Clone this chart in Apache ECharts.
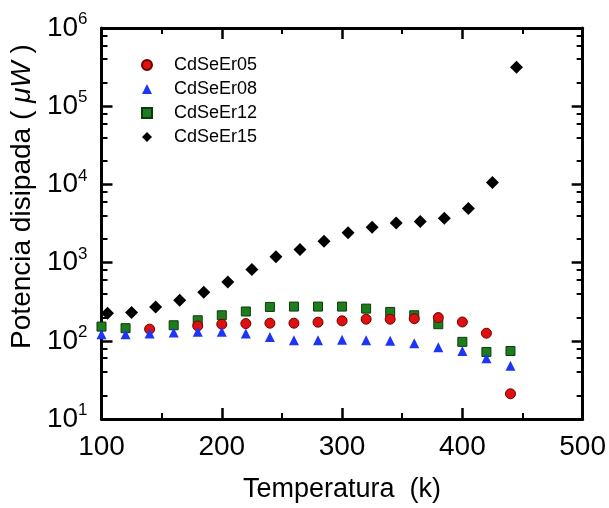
<!DOCTYPE html>
<html>
<head>
<meta charset="utf-8">
<script src="https://cdn.jsdelivr.net/npm/echarts@6/dist/echarts.min.js"></script>
<style>
  html, body { margin: 0; padding: 0; background: #fff; }
  #main { width: 609px; height: 508px; }
</style>
</head>
<body>
<div id="main"></div>
<script>
// datos
var tempA = [100, 120, 140, 160, 180, 200, 220, 240, 260, 280, 300, 320, 340, 360, 380, 400, 420, 440];
var tempB = [105, 125, 145, 165, 185, 205, 225, 245, 265, 285, 305, 325, 345, 365, 385, 405, 425, 445];

var cdseEr05 = [null, null, 141, null, 155, 163, 166, 168, 168, 173, 180, 189, 189, 192, 198, 174, 125, 21];
var cdseEr08 = [121, 121, 124, 128, 131, 131, 124, 112, 102, 102, 103, 102, 100, 93, 83, 74, 60, 48];
var cdseEr12 = [152, 145, null, 158, 183, 212, 237, 271, 274, 274, 274, 258, 234, 212, 163, 97, 72, 74];
var cdseEr15 = [225, 230, 270, 330, 417, 564, 818, 1190, 1470, 1880, 2400, 2840, 3220, 3350, 3700, 4910, 10600, 315000];

var xTicks = [100, 200, 300, 400, 500];
var yDecades = [10, 100, 1000, 10000, 100000, 1000000];
var yMinorMult = [2, 4, 6, 8];

var FONT = '"Liberation Sans", Arial, sans-serif';

function pares(xs, ys) {
    var out = [];
    for (var i = 0; i < xs.length; i++) {
        if (ys[i] != null) out.push([xs[i], ys[i]]);
    }
    return out;
}

// ticks menores del eje log (2,4,6,8 x 10^n) en espacio log10
var minorLog = [];
for (var d = 0; d < yDecades.length - 1; d++) {
    for (var m = 0; m < yMinorMult.length; m++) {
        minorLog.push(Math.log10(yDecades[d] * yMinorMult[m]));
    }
}

var chart = echarts.init(document.getElementById('main'));

var tickMajor = { show: true, inside: true, length: 11, lineStyle: { color: '#000', width: 2.5 } };
var lineAx = { show: true, lineStyle: { color: '#000', width: 3 } };

var option = {
    backgroundColor: '#fff',
    animation: false,
    grid: { left: 99, right: 24, top: 28, bottom: 88 },
    legend: {
        orient: 'vertical',
        left: 136,
        top: 51,
        itemWidth: 10,
        itemHeight: 10,
        itemGap: 6,
        data: ['CdSeEr05', 'CdSeEr08', 'CdSeEr12', 'CdSeEr15'],
        textStyle: { fontSize: 18, color: '#000', fontFamily: FONT, padding: [0, 0, 0, 17] }
    },
    xAxis: [{
        type: 'value',
        position: 'bottom',
        min: xTicks[0],
        max: xTicks[xTicks.length - 1],
        interval: 100,
        name: 'Temperatura  (k)',
        nameLocation: 'middle',
        nameGap: 57,
        nameTextStyle: { fontSize: 27, color: '#000', fontFamily: FONT },
        axisLine: lineAx,
        axisTick: tickMajor,
        minorTick: { show: true, splitNumber: 2, length: 6, lineStyle: { color: '#000', width: 2 } },
        axisLabel: { fontSize: 28, color: '#000', fontFamily: FONT, margin: 14 },
        splitLine: { show: false },
        minorSplitLine: { show: false }
    }, {
        type: 'value',
        position: 'top',
        min: xTicks[0],
        max: xTicks[xTicks.length - 1],
        interval: 100,
        axisLine: lineAx,
        axisTick: tickMajor,
        minorTick: { show: true, splitNumber: 2, length: 6, lineStyle: { color: '#000', width: 2 } },
        axisLabel: { show: false },
        splitLine: { show: false }
    }],
    yAxis: [{
        type: 'log',
        logBase: 10,
        position: 'left',
        min: yDecades[0],
        max: yDecades[yDecades.length - 1],
        name: 'Potencia disipada ( {it|μW} )',
        nameLocation: 'middle',
        nameGap: 57,
        nameTextStyle: {
            fontSize: 28, color: '#000', fontFamily: FONT,
            padding: [0, 0, 0, 54],
            rich: { it: { fontSize: 28, fontStyle: 'italic', color: '#000', fontFamily: FONT } }
        },
        axisLine: lineAx,
        axisTick: tickMajor,
        axisLabel: {
            margin: 14,
            formatter: function (v) {
                return '{b|10}{s|' + Math.round(Math.log10(v)) + '}';
            },
            rich: {
                b: { fontSize: 28, lineHeight: 34, color: '#000', fontFamily: FONT },
                s: { fontSize: 17, lineHeight: 17, color: '#000', fontFamily: FONT, verticalAlign: 'top' }
            }
        },
        splitLine: { show: false }
    }, {
        type: 'log',
        logBase: 10,
        position: 'right',
        min: yDecades[0],
        max: yDecades[yDecades.length - 1],
        axisLine: lineAx,
        axisTick: tickMajor,
        axisLabel: { show: false },
        splitLine: { show: false }
    }, {
        type: 'value',
        position: 'left',
        min: Math.log10(yDecades[0]),
        max: Math.log10(yDecades[yDecades.length - 1]),
        axisLine: { show: false },
        axisTick: { show: true, inside: true, length: 6, customValues: minorLog, lineStyle: { color: '#000', width: 2 } },
        axisLabel: { show: false },
        splitLine: { show: false }
    }, {
        type: 'value',
        position: 'right',
        min: Math.log10(yDecades[0]),
        max: Math.log10(yDecades[yDecades.length - 1]),
        axisLine: { show: false },
        axisTick: { show: true, inside: true, length: 6, customValues: minorLog, lineStyle: { color: '#000', width: 2 } },
        axisLabel: { show: false },
        splitLine: { show: false }
    }],
    series: [{
        name: 'CdSeEr12',
        type: 'scatter',
        symbol: 'rect',
        symbolSize: 9,
        data: pares(tempA, cdseEr12),
        itemStyle: { color: '#1d7d1d', borderColor: '#0b3b0b', borderWidth: 1, opacity: 1 }
    }, {
        name: 'CdSeEr05',
        type: 'scatter',
        symbol: 'circle',
        symbolSize: 10,
        data: pares(tempA, cdseEr05),
        itemStyle: { color: '#e01010', borderColor: '#6a0000', borderWidth: 1, opacity: 1 }
    }, {
        name: 'CdSeEr08',
        type: 'scatter',
        symbol: 'triangle',
        symbolSize: 10,
        data: pares(tempA, cdseEr08),
        itemStyle: { color: '#1f35f5', opacity: 1 }
    }, {
        name: 'CdSeEr15',
        type: 'scatter',
        symbol: 'diamond',
        symbolSize: 13,
        data: pares(tempB, cdseEr15),
        itemStyle: { color: '#000', opacity: 1 }
    }]
};

chart.setOption(option);
</script>
</body>
</html>
